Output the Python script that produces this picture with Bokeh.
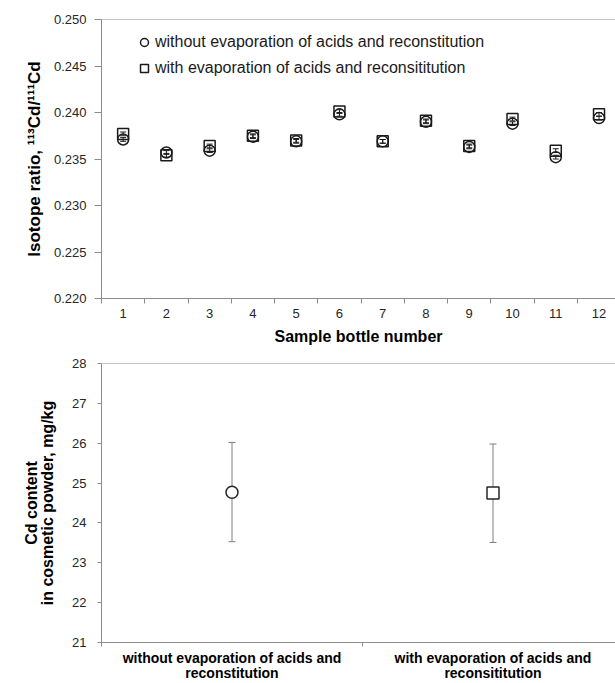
from bokeh.plotting import figure
from bokeh.models import (Range1d, FixedTicker, Span, Whisker, TeeHead, ColumnDataSource,
                          NumeralTickFormatter)
from bokeh.layouts import column
from bokeh.embed import file_html
from bokeh.resources import INLINE

# ---------------- data ----------------
samples = [1, 2, 3, 4, 5, 6, 7, 8, 9, 10, 11, 12]
ratio_without = [0.2371, 0.2357, 0.2359, 0.2374, 0.2369, 0.2398,
                 0.2369, 0.2390, 0.2363, 0.2388, 0.2352, 0.2394]
ratio_with = [0.2377, 0.2354, 0.2364, 0.2375, 0.2370, 0.2401,
              0.2369, 0.2391, 0.2364, 0.2393, 0.2359, 0.2398]
sd_without = [0.0002, 0.0002, 0.0002, 0.0002, 0.0002, 0.0002,
              0.0002, 0.0002, 0.0002, 0.0002, 0.0002, 0.0002]
sd_with = [0.0002, 0.0002, 0.0002, 0.0002, 0.0002, 0.0002,
           0.0002, 0.0002, 0.0002, 0.0002, 0.0002, 0.0002]
ratio_ticks = [0.220, 0.225, 0.230, 0.235, 0.240, 0.245, 0.250]

methods = ["without evaporation of acids and\nreconstitution",
           "with evaporation of acids and\nreconsititution"]
method_markers = ["circle", "square"]
cd_content = [24.77, 24.75]
cd_lower = [23.53, 23.51]
cd_upper = [26.02, 25.98]
cd_ticks = [21, 22, 23, 24, 25, 26, 27, 28]

legend_without = "without evaporation of acids and reconstitution"
legend_with = "with evaporation of acids and reconsititution"
ratio_title = "Isotope ratio, ¹¹³Cd/¹¹¹Cd"

FONT = "Liberation Sans"
AXIS_COLOR = "#8c8c8c"
TICK_LABEL_COLOR = "#262626"
MARK_COLOR = "#1a1a1a"


def style_axis(ax):
    ax.axis_line_color = AXIS_COLOR
    ax.major_tick_line_color = AXIS_COLOR
    ax.minor_tick_line_color = AXIS_COLOR
    ax.major_label_text_font = FONT
    ax.major_label_text_color = TICK_LABEL_COLOR
    ax.axis_label_text_font = FONT
    ax.axis_label_text_font_style = "bold"
    ax.axis_label_text_color = "#000000"


# ---------------- top chart ----------------
x_end_top = 0.5 + (615 - 97) / 43.6
p1 = figure(width=615, height=350, x_range=Range1d(0.5, x_end_top),
            y_range=Range1d(ratio_ticks[0], ratio_ticks[-1]),
            output_backend="svg", toolbar_location=None,
            min_border_left=97, min_border_right=0,
            min_border_top=19, min_border_bottom=52)
p1.outline_line_color = None
p1.xgrid.grid_line_color = None
p1.ygrid.grid_line_color = None

yax = p1.yaxis[0]
style_axis(yax)
yax.ticker = FixedTicker(ticks=ratio_ticks)
yax.formatter = NumeralTickFormatter(format="0.000")
yax.major_tick_out = 7
yax.major_tick_in = 0
yax.minor_tick_out = 0
yax.minor_tick_in = 0
yax.major_label_text_font_size = "13px"
yax.major_label_standoff = 8
yax.axis_label = ratio_title
yax.axis_label_text_font_size = "17px"
yax.axis_label_standoff = 7

xax = p1.xaxis[0]
style_axis(xax)
xax.ticker = FixedTicker(ticks=samples,
                         minor_ticks=[s - 0.5 for s in samples] + [samples[-1] + 0.5])
xax.major_tick_out = 0
xax.major_tick_in = 0
xax.minor_tick_out = 5
xax.minor_tick_in = 0
xax.major_label_text_font_size = "13px"
xax.major_label_standoff = 5
xax.axis_label = "Sample bottle number"
xax.axis_label_text_font_size = "16px"
xax.axis_label_standoff = 7

p1.add_layout(Span(location=ratio_ticks[-1], dimension="width",
                   line_color=AXIS_COLOR, line_width=1))

src_wo = ColumnDataSource(dict(x=samples, y=ratio_without,
                               lo=[v - s for v, s in zip(ratio_without, sd_without)],
                               up=[v + s for v, s in zip(ratio_without, sd_without)]))
src_w = ColumnDataSource(dict(x=samples, y=ratio_with,
                              lo=[v - s for v, s in zip(ratio_with, sd_with)],
                              up=[v + s for v, s in zip(ratio_with, sd_with)]))
for src in (src_wo, src_w):
    w = Whisker(base="x", upper="up", lower="lo", source=src, dimension="height",
                line_color=MARK_COLOR, line_width=1,
                upper_head=TeeHead(size=6, line_color=MARK_COLOR, line_width=1),
                lower_head=TeeHead(size=6, line_color=MARK_COLOR, line_width=1))
    p1.add_layout(w)

p1.scatter("x", "y", source=src_wo, marker="circle", size=11, fill_color=None,
           line_color=MARK_COLOR, line_width=1.5, legend_label=legend_without)
p1.scatter("x", "y", source=src_w, marker="square", size=11, fill_color=None,
           line_color=MARK_COLOR, line_width=1.5, legend_label=legend_with)

lg = p1.legend[0]
lg.location = (33, 220)
lg.border_line_color = None
lg.background_fill_alpha = 0
lg.padding = 0
lg.margin = 0
lg.spacing = 6
lg.glyph_width = 20
lg.glyph_height = 20
lg.label_height = 20
lg.label_standoff = 1
lg.label_text_font = FONT
lg.label_text_font_size = "16px"
lg.label_text_color = "#1a1a1a"

# ---------------- bottom chart ----------------
x_end_bot = (615 - 101) / 261.0
p2 = figure(width=615, height=333, x_range=Range1d(0, x_end_bot),
            y_range=Range1d(cd_ticks[0], cd_ticks[-1]),
            output_backend="svg", toolbar_location=None,
            min_border_left=101, min_border_right=0,
            min_border_top=13, min_border_bottom=40)
p2.outline_line_color = None
p2.xgrid.grid_line_color = None
p2.ygrid.grid_line_color = None

positions = [i + 0.5 for i in range(len(methods))]

yax2 = p2.yaxis[0]
style_axis(yax2)
yax2.ticker = FixedTicker(ticks=cd_ticks)
yax2.major_tick_out = 4
yax2.major_tick_in = 0
yax2.minor_tick_out = 0
yax2.minor_tick_in = 0
yax2.major_label_text_font_size = "13px"
yax2.major_label_standoff = 11
yax2.axis_label = "Cd content\nin cosmetic powder, mg/kg"
yax2.axis_label_text_font_size = "16px"
yax2.axis_label_text_line_height = 0.95
yax2.axis_label_standoff = 13

xax2 = p2.xaxis[0]
style_axis(xax2)
xax2.ticker = FixedTicker(ticks=positions,
                          minor_ticks=list(range(len(methods) + 1)))
xax2.major_label_overrides = {pos: lab for pos, lab in zip(positions, methods)}
xax2.major_tick_out = 0
xax2.major_tick_in = 0
xax2.minor_tick_out = 4
xax2.minor_tick_in = 0
xax2.major_label_text_font_size = "14px"
xax2.major_label_text_line_height = 0.95
xax2.major_label_text_font_style = "bold"
xax2.major_label_text_color = "#000000"
xax2.major_label_standoff = 3

p2.add_layout(Span(location=cd_ticks[-1], dimension="width",
                   line_color=AXIS_COLOR, line_width=1))

src2 = ColumnDataSource(dict(x=positions, y=cd_content, lo=cd_lower, up=cd_upper,
                             m=method_markers))
w2 = Whisker(base="x", upper="up", lower="lo", source=src2, dimension="height",
             line_color="#7f7f7f", line_width=1, level="underlay",
             upper_head=TeeHead(size=7, line_color="#7f7f7f", line_width=1),
             lower_head=TeeHead(size=7, line_color="#7f7f7f", line_width=1))
p2.add_layout(w2)
p2.scatter("x", "y", source=src2, marker="m", size=12, fill_color="white",
           line_color="#262626", line_width=1.5)

layout = column(p1, p2, spacing=0)
open("out.html", "w").write(file_html(layout, INLINE))
